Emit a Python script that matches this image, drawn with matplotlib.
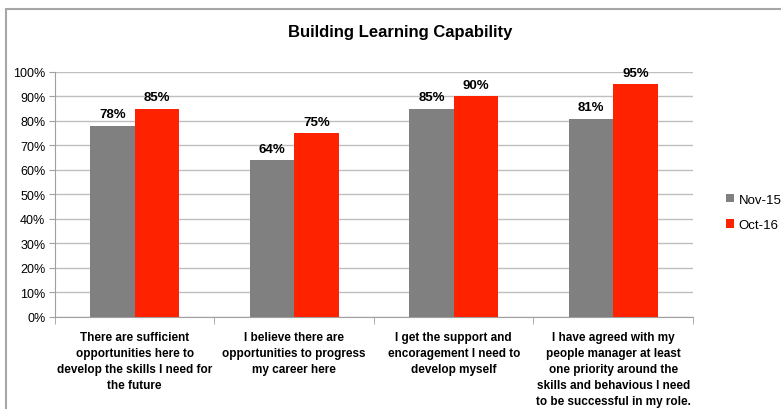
import matplotlib.pyplot as plt
import numpy as np
from matplotlib.patches import Rectangle
from matplotlib.ticker import MultipleLocator, PercentFormatter

plt.rcParams['font.family'] = ['Liberation Sans', 'DejaVu Sans']

# Survey results
categories = [
    "There are sufficient\nopportunities here to\ndevelop the skills I need for\nthe future",
    "I believe there are\nopportunities to progress\nmy career here",
    "I get the support and\nencoragement I need to\ndevelop myself",
    "I have agreed with my\npeople manager at least\none priority around the\nskills and behavious I need\nto be successful in my role.",
]
nov15 = [78, 64, 85, 81]
oct16 = [85, 75, 90, 95]
series_names = ["Nov-15", "Oct-16"]

fig = plt.figure(figsize=(7.81, 4.10), dpi=100)
ax = fig.add_axes([0.0704, 0.2244, 0.8169, 0.5976])

x = np.arange(len(categories))
w = 0.28
b1 = ax.bar(x - w / 2, nov15, w, color='#808080', label=series_names[0], zorder=3)
b2 = ax.bar(x + w / 2, oct16, w, color='#FF2200', label=series_names[1], zorder=3)

for bars, vals in ((b1, nov15), (b2, oct16)):
    for rect, v in zip(bars, vals):
        ax.annotate(f"{v}%", (rect.get_x() + rect.get_width() / 2, v),
                    xytext=(0, 4), textcoords='offset points',
                    ha='center', va='bottom', fontsize=9.5, fontweight='bold')

ax.set_ylim(0, 100)
ax.set_xlim(-0.5, len(categories) - 0.5)
ax.yaxis.set_major_locator(MultipleLocator(10))
ax.yaxis.set_major_formatter(PercentFormatter(decimals=0))
ax.grid(axis='y', color='#BFBFBF', linewidth=1, zorder=0)

ax.set_xticks(x)
ax.set_xticklabels(categories, fontsize=8.5, fontweight='bold', linespacing=1.45)
ax.set_xticks(np.arange(-0.5, len(categories)), minor=True)
ax.tick_params(axis='x', which='major', length=0, pad=10)
ax.tick_params(axis='x', which='minor', length=5, color='#A0A0A0')
ax.tick_params(axis='y', length=4, color='#A0A0A0', labelsize=9, pad=3)

for s in ('top', 'right'):
    ax.spines[s].set_visible(False)
for s in ('left', 'bottom'):
    ax.spines[s].set_color('#A0A0A0')

fig.text(0.512, 0.92, "Building Learning Capability", ha='center', va='center',
         fontsize=12, fontweight='bold')

fig.legend(loc='center left', bbox_to_anchor=(0.929, 0.48), frameon=False,
           fontsize=9.5, handlelength=0.65, handleheight=0.65, handletextpad=0.35,
           labelspacing=1.0, borderpad=0, borderaxespad=0)

# chart border
fig.patches.append(Rectangle((6 / 781, -0.1), 1.0, 1 - 10 / 410 + 0.1,
                             transform=fig.transFigure, fill=False,
                             edgecolor='#A6A6A6', linewidth=1.5))

fig.savefig('out.png', dpi=100)
